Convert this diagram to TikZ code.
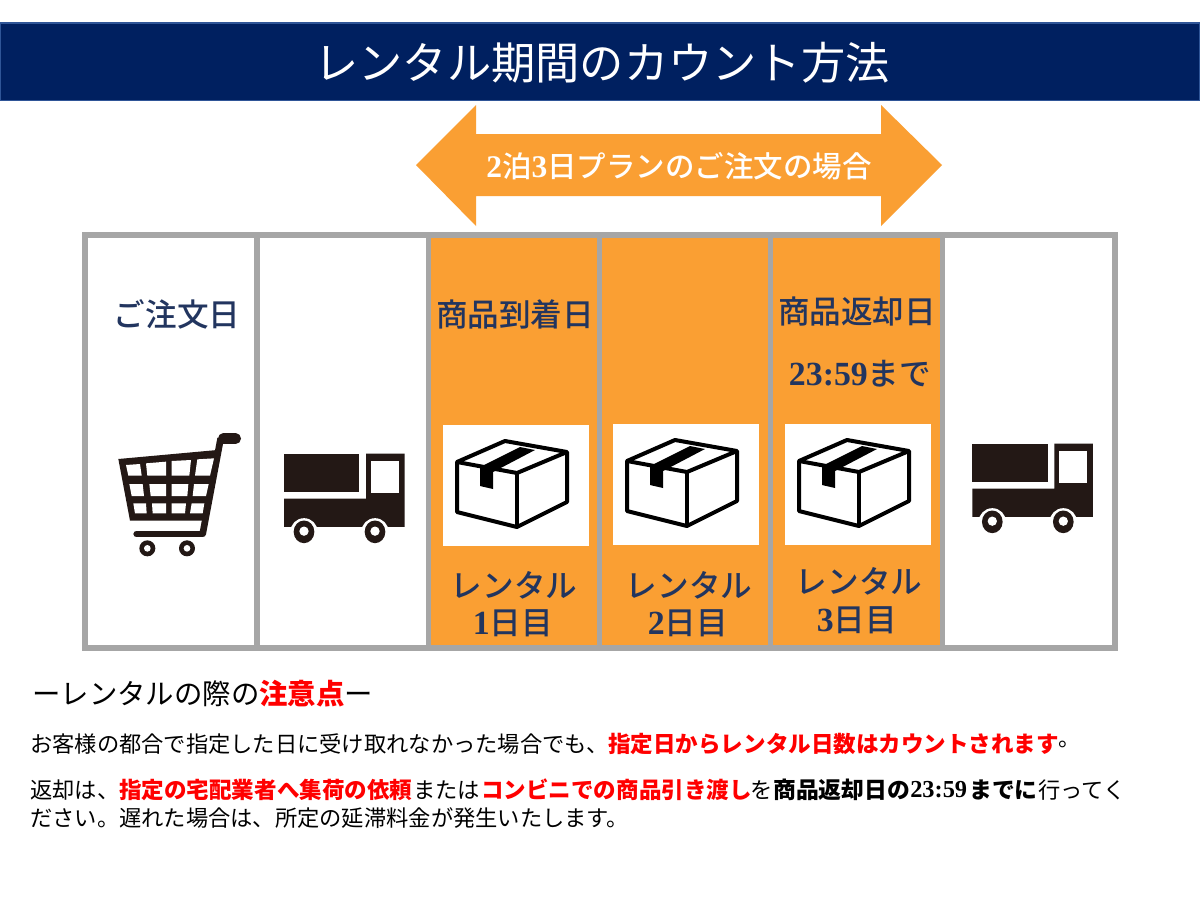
\documentclass[tikz,border=0pt]{standalone}
\usepackage{fontspec}
\setmainfont{Noto Sans CJK JP}
\newfontfamily\medfont{Noto Sans CJK JP Medium}
\newfontfamily\latinserif[Scale=1.07]{Liberation Serif}
\newcommand{\ls}[1]{{\latinserif\bfseries #1}}
\definecolor{navy}{HTML}{002060}
\definecolor{navyedge}{HTML}{2F5597}
\definecolor{orangefill}{HTML}{FA9F33}
\definecolor{cellgrey}{HTML}{A6A6A6}
\definecolor{labelblue}{HTML}{22355F}
\definecolor{iconblack}{HTML}{231815}
\definecolor{noticered}{HTML}{FF0000}
\tikzset{
  titletext/.style={text=white,font=\fontsize{33.2}{36}\selectfont,inner sep=0pt},
  arrowtext/.style={text=white,font=\fontsize{22.1}{26}\selectfont\medfont,inner sep=0pt},
  celllabel/.style={text=labelblue,font=\fontsize{23.7}{26}\selectfont\medfont,inner sep=0pt},
  headtext/.style={text=black,font=\fontsize{21.3}{24}\selectfont,inner sep=0pt,anchor=west},
  notetext/.style={text=black,font=\fontsize{16.7}{20}\selectfont,inner sep=0pt,anchor=west},
  redtext/.style={text=noticered,font=\fontsize{16.9}{20}\selectfont\bfseries,inner sep=0pt,anchor=west},
  strongtext/.style={text=black,font=\fontsize{17.1}{20}\selectfont\bfseries,inner sep=0pt,anchor=west},
  pics/parcel/.style={code={
    \fill[white] (0,0) rectangle (146,121);
    \draw[black,line width=3pt,line join=round] (62,16) -- (124,27) -- (124,77) -- (74,102) -- (14,87) -- (14,37) -- cycle;
    \draw[black,line width=3pt,line join=round] (14,37) -- (74,48) -- (124,27);
    \draw[black,line width=3pt] (74,48) -- (74,102);
    \fill[black] (37,42) -- (77,22) -- (92,25) -- (52,46) -- (50,47) -- (50,64) -- (37,61) -- cycle;
  }},
  pics/lorry/.style={code={
    \begin{scope}[x=.25pt,y=-.25pt]
    \fill[iconblack] (0,0) rectangle (226,115);
    \fill[iconblack] (0,135) -- (246,135) -- (246,0) -- (362,0) -- (362,220) -- (0,220) -- cycle;
    \fill[white] (261,22) rectangle (345,117);
    \foreach \cx in {60,273}{
      \fill[white] (\cx,235) circle[radius=41];
      \fill[iconblack] (\cx,235) ellipse[x radius=31,y radius=34];
      \fill[white] (\cx,233) circle[radius=14];
    }
    \end{scope}
  }}
}
\begin{document}
\begin{tikzpicture}[x=.75pt,y=-.75pt]
\useasboundingbox (0,0) rectangle (1200,900);
\fill[white] (0,0) rectangle (1200,900);
% title band
\draw[navyedge,fill=navy,line width=1pt] (0.6,23) rectangle (1199.4,100.5);
\node[titletext] (title) at (602,63) {レンタル期間のカウント方法};
% double arrow
\fill[orangefill] (416,165) -- (476,105) -- (476,134) -- (881,134) -- (881,105) -- (942,165) -- (881,226) -- (881,196) -- (476,196) -- (476,226) -- cycle;
\node[arrowtext] (plan) at (679,166) {\ls{2}泊\ls{3}日プランのご注文の場合};
% table
\fill[orangefill] (429,235) rectangle (943,649);
\draw[cellgrey,line width=4.1pt] (85,235) rectangle (1115,648);
\foreach \vx in {257,428.5,599.5,770.5,942.5} \draw[cellgrey,line width=4.1pt] (\vx,235) -- (\vx,648);
% column labels
\node[celllabel] (order) at (177,314) {ご注文日};
\node[celllabel] (arrive) at (515,314) {商品到着日};
\node[celllabel] (return) at (857,312) {商品返却日};
\node[celllabel] (limit) at (860,374) {\ls{23:59}まで};
\node[celllabel] (d1a) at (514,585) {レンタル};
\node[celllabel] (d1b) at (513,623) {\ls{1}日目};
\node[celllabel] (d2a) at (689,585) {レンタル};
\node[celllabel] (d2b) at (688,623) {\ls{2}日目};
\node[celllabel] (d3a) at (859,581) {レンタル};
\node[celllabel] (d3b) at (857,620) {\ls{3}日目};
% parcels
\pic at (443,425) {parcel};
\pic at (613,424) {parcel};
\pic at (785,424) {parcel};
% lorries
\pic at (284,453.5) {lorry};
\pic at (972.3,443.5) {lorry};
% cart
\begin{scope}[shift={(90,410)},x=.25pt,y=-.25pt]
  \fill[iconblack] (85,147) -- (382,120) -- (342,332) -- (120,332) -- cycle;
  \draw[iconblack,line width=5pt] (392,85) -- (338,372);
  \draw[iconblack,line width=8pt,line cap=round] (400,86) -- (437,86);
  \draw[iconblack,line width=5pt,line cap=round] (140,372) -- (338,372);
  \fill[white] (108,165) -- (150,162) -- (155,197) -- (115,197) -- cycle
    (168,160) -- (228,155) -- (228,197) -- (172,197) -- cycle
    (245,153) -- (303,150) -- (298,197) -- (245,197) -- cycle
    (322,148) -- (372,145) -- (360,197) -- (315,197) -- cycle
    (118,222) -- (158,222) -- (162,258) -- (125,258) -- cycle
    (178,222) -- (228,222) -- (228,258) -- (182,258) -- cycle
    (245,222) -- (295,222) -- (292,258) -- (245,258) -- cycle
    (312,222) -- (356,222) -- (348,258) -- (308,258) -- cycle
    (130,280) -- (168,280) -- (170,310) -- (135,310) -- cycle
    (186,280) -- (228,280) -- (228,310) -- (188,310) -- cycle
    (245,280) -- (288,280) -- (285,310) -- (245,310) -- cycle
    (305,280) -- (343,280) -- (338,310) -- (300,310) -- cycle;
  \foreach \cx in {172,291}{
    \fill[iconblack] (\cx,415) circle[radius=24];
    \fill[white] (\cx,415) circle[radius=10];
  }
\end{scope}
% notes
\node[headtext] (head) at (32,694) {ーレンタルの際の{\color{noticered}\bfseries 注意点}ー};
\node[notetext] (n1a) at (30,744) {お客様の都合で指定した日に受け取れなかった場合でも、};
\node[redtext] (n1b) at (608,744) {指定日からレンタル日数はカウントされます};
\node[notetext] (n1c) at (1058,744) {。};
\node[notetext] (n2a) at (30,790) {返却は、};
\node[redtext] (n2b) at (119,790) {指定の宅配業者へ集荷の依頼};
\node[notetext] (n2c) at (413,790) {または};
\node[redtext] (n2d) at (481,790) {コンビニでの商品引き渡し};
\node[notetext] (n2e) at (750,790) {を};
\node[strongtext] (n2f) at (773,790) {商品返却日の};
\node[strongtext] (n2g) at (910,790) {\ls{23:59}};
\node[strongtext] (n2h) at (969,790) {までに};
\node[notetext] (n2i) at (1038,790) {行ってく};
\node[notetext] (n3) at (30,818) {ださい。遅れた場合は、所定の延滞料金が発生いたします。};
\end{tikzpicture}
\end{document}
